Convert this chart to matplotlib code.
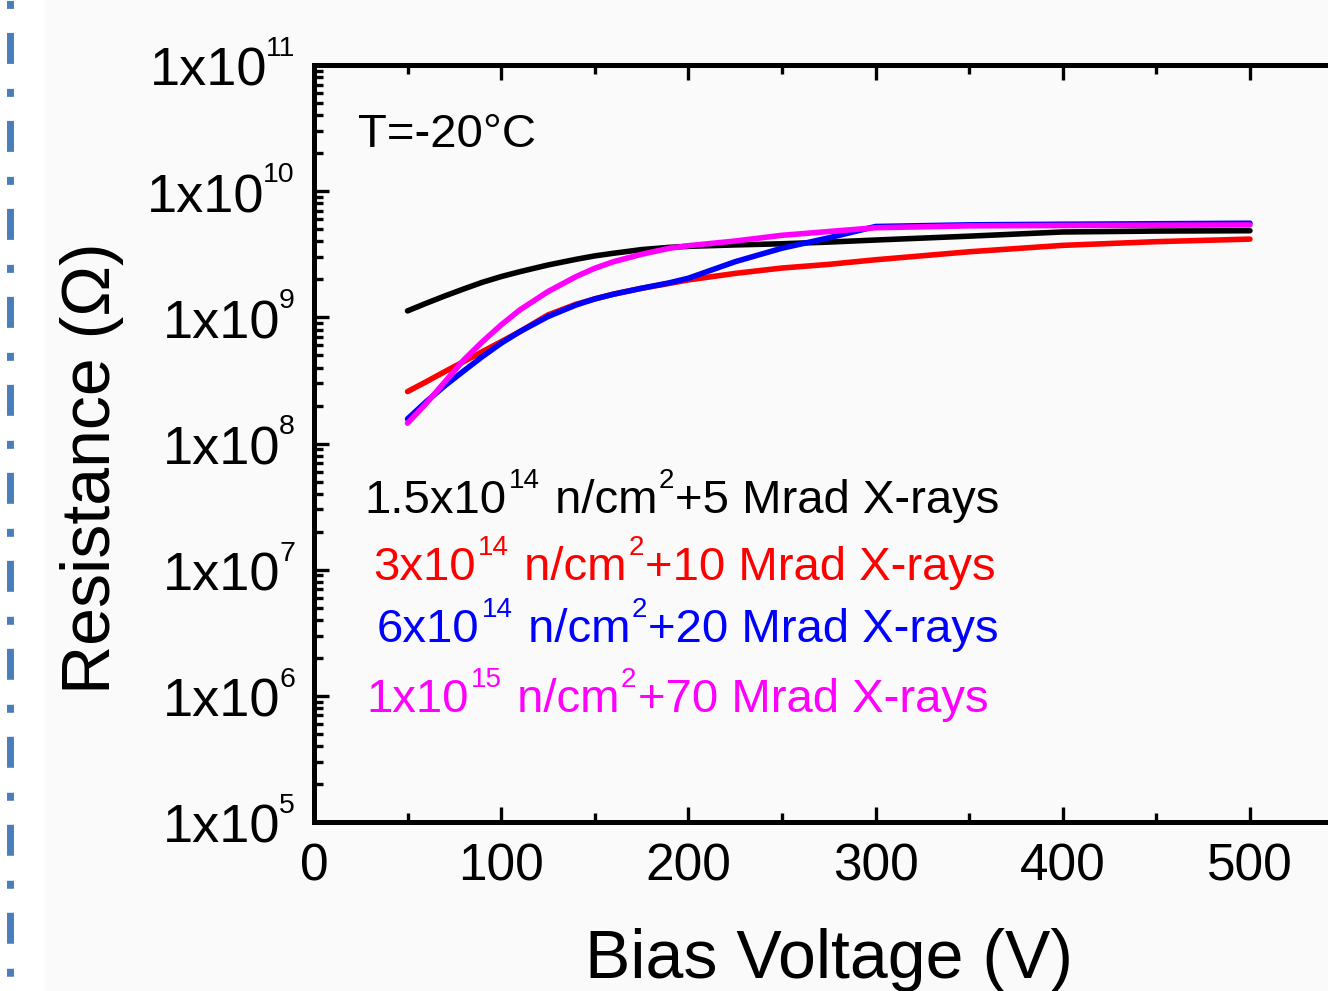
import matplotlib
matplotlib.use("Agg")
import matplotlib.pyplot as plt
from matplotlib.lines import Line2D
from matplotlib.patches import Rectangle
from matplotlib.ticker import MultipleLocator, LogLocator, NullFormatter

plt.rcParams['font.family'] = ['Liberation Sans', 'DejaVu Sans']

# bias voltage (V) and resistance (Ohm)
voltage = [50, 60, 70, 80, 90, 100, 110, 125, 140, 150, 160, 175, 190, 200,
           225, 250, 275, 300, 350, 400, 450, 500]
r_15e14 = [1.125e9, 1.294e9, 1.479e9, 1.679e9, 1.897e9, 2.104e9, 2.301e9, 2.600e9,
           2.884e9, 3.069e9, 3.221e9, 3.443e9, 3.589e9, 3.656e9, 3.750e9, 3.830e9,
           3.950e9, 4.100e9, 4.400e9, 4.750e9, 4.830e9, 4.860e9]
r_3e14 = [2.58e8, 3.09e8, 3.72e8, 4.46e8, 5.35e8, 6.41e8, 7.71e8, 1.045e9,
          1.27e9, 1.40e9, 1.53e9, 1.70e9, 1.86e9, 1.98e9, 2.23e9, 2.46e9,
          2.63e9, 2.86e9, 3.31e9, 3.72e9, 3.98e9, 4.17e9]
r_6e14 = [1.567e8, 2.148e8, 2.877e8, 3.758e8, 4.887e8, 6.237e8, 7.709e8, 1.014e9,
          1.253e9, 1.40e9, 1.524e9, 1.70e9, 1.88e9, 2.042e9, 2.761e9, 3.532e9,
          4.266e9, 5.25e9, 5.41e9, 5.47e9, 5.52e9, 5.57e9]
r_1e15 = [1.449e8, 2.084e8, 3.09e8, 4.592e8, 6.412e8, 8.71e8, 1.146e9, 1.60e9,
          2.104e9, 2.449e9, 2.761e9, 3.162e9, 3.532e9, 3.698e9, 4.027e9, 4.47e9,
          4.79e9, 5.13e9, 5.31e9, 5.35e9, 5.37e9, 5.40e9]

series = [r_15e14, r_3e14, r_6e14, r_1e15]
colors = ['black', '#ff0000', '#0000ff', '#ff00ff']
# legend pieces: (mantissa, exponent, dose text)
labels = [("1.5x10", "14", "+5 Mrad X-rays"),
          ("3x10", "14", "+10 Mrad X-rays"),
          ("6x10", "14", "+20 Mrad X-rays"),
          ("1x10", "15", "+70 Mrad X-rays")]
label_pos = [(0.049, 0.408), (0.058, 0.320), (0.061, 0.238), (0.051, 0.146)]
decades = [5, 6, 7, 8, 9, 10, 11]

fig = plt.figure(figsize=(13.28, 9.91), dpi=100, facecolor='#fafafa')
fig.add_artist(Rectangle((0, 0), 45 / 1328, 1, transform=fig.transFigure,
                         facecolor='white', edgecolor='none', zorder=0))
fig.add_artist(Line2D([9.5 / 1328, 9.5 / 1328], [1, 0], transform=fig.transFigure,
                      color='#4a7ebb', lw=5,
                      linestyle=(8.0, (4.46, 3.6, 1.15, 3.46))))

ax = fig.add_axes([0.2364, 0.1705, 0.7753, 0.7639])
ax.set_facecolor('none')

for r, c in zip(series, colors):
    ax.plot(voltage, r, color=c, lw=4.0, solid_capstyle='round',
            solid_joinstyle='round')

ax.set_yscale('log')
ax.set_xlim(0, 550)
ax.set_ylim(1e5, 1e11)
ax.xaxis.set_major_locator(MultipleLocator(100))
ax.xaxis.set_minor_locator(MultipleLocator(50))
ax.yaxis.set_major_locator(LogLocator(base=10, numticks=20))
ax.yaxis.set_minor_locator(LogLocator(base=10, subs=range(2, 10), numticks=20))
ax.yaxis.set_major_formatter(NullFormatter())
ax.yaxis.set_minor_formatter(NullFormatter())

for s in ax.spines.values():
    s.set_linewidth(3.6)
ax.tick_params(which='both', direction='in', top=True, right=True, width=2.4)
ax.tick_params(which='major', length=11, labelsize=37, pad=14.5)
ax.tick_params(which='minor', length=6.5)

# y tick labels as 1x10^n
for e in decades:
    sup = ax.annotate(str(e), xy=(0, 10.0 ** e), xycoords=ax.get_yaxis_transform(),
                      xytext=(-13.7, 6.5), textcoords='offset points',
                      ha='right', va='baseline', fontsize=20.5, annotation_clip=False)
    ax.annotate("1x10", xy=(0, 10.0 ** e), xycoords=(sup, ax.transData),
                xytext=(1.0, -15), textcoords='offset points',
                ha='right', va='baseline', fontsize=39, annotation_clip=False)

ax.set_xlabel('Bias Voltage (V)', fontsize=49)
ax.xaxis.set_label_coords(0.5, -0.14)
ax.set_ylabel('Resistance (\u03a9)', fontsize=49)
ax.yaxis.set_label_coords(-0.184, 0.468)

ax.text(0.043, 0.892, 'T=-20\u00b0C', transform=ax.transAxes, fontsize=34,
        ha='left', va='baseline')

# coloured legend lines, pieces chained one after another
for (mant, exp, dose), c, (lx, ly) in zip(labels, colors, label_pos):
    t = ax.text(lx, ly, mant, transform=ax.transAxes, fontsize=34, color=c,
                ha='left', va='baseline')
    prev = t
    for piece, size, dx, dy in [(exp, 20, 1.5, 18), (" n/cm", 34, 1.5, 0),
                                ("2", 20, 1.0, 18), (dose, 34, 1.0, 0)]:
        prev = ax.annotate(piece, xy=(1, ly), xycoords=(prev, ax.transAxes),
                           xytext=(dx, dy), textcoords='offset points',
                           fontsize=size, color=c, ha='left', va='baseline')

fig.savefig('out.png', dpi=100, facecolor=fig.get_facecolor())
